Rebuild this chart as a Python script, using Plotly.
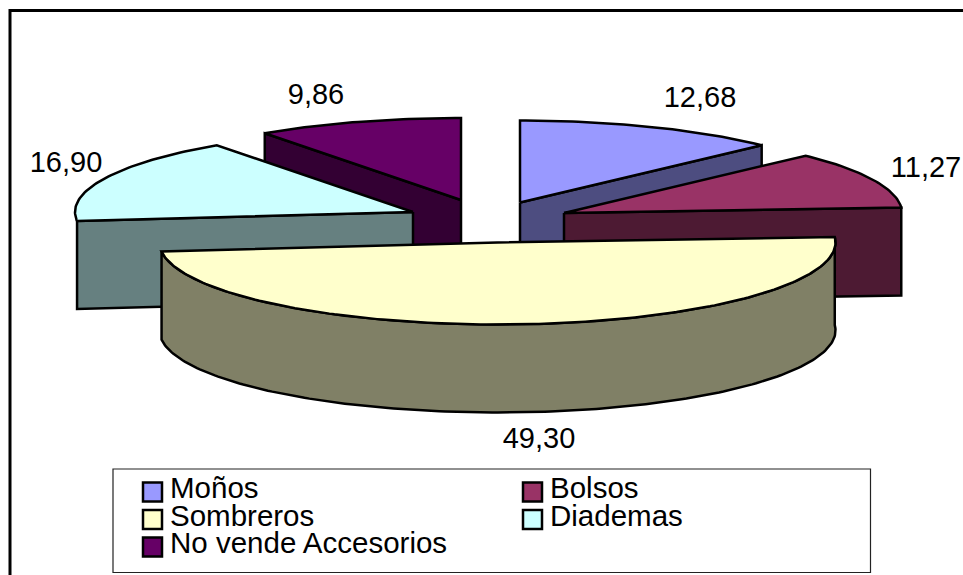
import math
import plotly.graph_objects as go

categories = ["Moños", "Bolsos", "Sombreros", "Diademas", "No vende Accesorios"]
values = [12.68, 11.27, 49.30, 16.90, 9.86]
top_colors = ["#9999FF", "#993366", "#FFFFCC", "#CCFFFF", "#660066"]
wall_colors = ["#4D4D80", "#4D1A33", "#808066", "#668080", "#330033"]

# Exploded slice centres on the canvas, one per category
centers = [(520, 202.5), (564, 213), (497.5, 242.5), (413, 212), (461, 200)]
label_xy = [(700, 100), (926, 170), (539, 441), (66, 165), (316, 97)]
legend_marks = [(152.5, 492), (532.5, 492), (152.5, 519.5), (532.5, 519.5), (152.5, 547)]

RX, RY, DEPTH = 338, 82, 88
FONT = "Liberation Sans, Arial, sans-serif"
INK = "#000000"

total = sum(values)
spans = []
start = 0.0
for v in values:
    end = start + v / total * 360
    spans.append((start, end))
    start = end


def rim(cx, cy, a0, a1, dz=0):
    # Points along the elliptical rim, angles clockwise from the top
    n = max(2, int(abs(a1 - a0)) + 1)
    xs, ys = [], []
    for i in range(n + 1):
        a = math.radians(a0 + (a1 - a0) * i / n)
        xs.append(cx + RX * math.sin(a))
        ys.append(cy - RY * math.cos(a) + dz)
    return xs, ys


def polygon(fig, xs, ys, color):
    fig.add_trace(go.Scatter(
        x=xs + xs[:1], y=ys + ys[:1], mode="lines", fill="toself",
        fillcolor=color, line=dict(color=INK, width=2.5, shape="linear"),
        hoverinfo="skip", showlegend=False,
    ))


def radial_face(fig, cx, cy, angle, color):
    # Flat cut face running from the slice centre to the rim
    xs, ys = rim(cx, cy, angle, angle)
    ex, ey = xs[0], ys[0]
    polygon(fig, [cx, ex, ex, cx], [cy, ey, ey + DEPTH, cy + DEPTH], color)


def draw_slice(fig, i):
    cx, cy = centers[i]
    a0, a1 = spans[i]
    # Visible cut faces: the trailing edge on the right, the leading edge on the left
    if a1 <= 90:
        radial_face(fig, cx, cy, a1, wall_colors[i])
    elif a0 >= 180:
        radial_face(fig, cx, cy, a0, wall_colors[i])
    # Outer wall only for the slice that spans the front of the ellipse
    if a0 < 180 < a1:
        tx, ty = rim(cx, cy, a0, a1)
        bx, by = rim(cx, cy, a0, a1, DEPTH)
        polygon(fig, tx + bx[::-1], ty + by[::-1], wall_colors[i])
    # Top face
    rx, ry = rim(cx, cy, a0, a1)
    polygon(fig, [cx] + rx, [cy] + ry, top_colors[i])


fig = go.Figure()

# Painter's order: rear slices first, the large front slice last
for i in [0, 4, 1, 3, 2]:
    draw_slice(fig, i)

# Value labels
fig.add_trace(go.Scatter(
    x=[p[0] for p in label_xy], y=[p[1] for p in label_xy], mode="text",
    text=[f"{v:.2f}".replace(".", ",") for v in values],
    textposition="middle center", textfont=dict(family=FONT, size=29, color=INK),
    hoverinfo="skip", showlegend=False, cliponaxis=False,
))

# Legend swatches and their captions
fig.add_trace(go.Scatter(
    x=[p[0] for p in legend_marks], y=[p[1] for p in legend_marks], mode="markers",
    marker=dict(symbol="square", size=19, color=top_colors, line=dict(color=INK, width=2.5)),
    hoverinfo="skip", showlegend=False,
))
fig.add_trace(go.Scatter(
    x=[p[0] + 17.5 for p in legend_marks], y=[p[1] - 1 for p in legend_marks], mode="text",
    text=categories, textposition="middle right",
    textfont=dict(family=FONT, size=29.5, color=INK),
    hoverinfo="skip", showlegend=False, cliponaxis=False,
))

fig.update_layout(
    width=963, height=575, autosize=False,
    margin=dict(l=0, r=0, t=0, b=0),
    paper_bgcolor="#FFFFFF", plot_bgcolor="#FFFFFF",
    xaxis=dict(range=[0, 963], visible=False, fixedrange=True),
    yaxis=dict(range=[575, 0], visible=False, fixedrange=True),
    showlegend=False,
    shapes=[
        # Chart-area frame, running past the right and bottom edges
        dict(type="rect", x0=10, y0=10.5, x1=975, y1=590, line=dict(color=INK, width=3), layer="below"),
        # Legend box
        dict(type="rect", x0=113, y0=469, x1=870.5, y1=572.5, line=dict(color="#222222", width=1.2),
             fillcolor="#FFFFFF", layer="below"),
    ],
)

fig.write_html("out.html", config={"displayModeBar": False})
